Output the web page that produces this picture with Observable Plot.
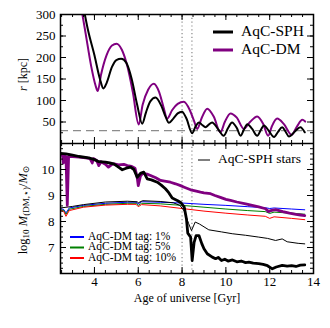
<!DOCTYPE html>
<html><head><meta charset="utf-8">
<script src="https://cdn.jsdelivr.net/npm/d3@7"></script>
<script src="https://cdn.jsdelivr.net/npm/@observablehq/plot@0.6"></script>
<style>body{margin:0;background:#fff} svg{display:block} #chart{width:330px}</style>
</head><body><div id="chart"></div>
<script>
// ---------- data ----------
const xDomain = [2.45, 14];
const xMajor = [4, 6, 8, 10, 12, 14];
const rMajor = [50, 100, 150, 200, 250, 300];
const mMajor = [7, 8, 9, 10];
const pericentreTimes = [8.0, 8.45];
const rTidal = [30];

// orbit radius r [kpc] vs age [Gyr]
const sphOrbitT = [3.45,3.7,4.0,4.25,4.41,4.55,4.8,5.0,5.22,5.45,5.7,5.95,6.18,6.35,6.55,6.79,7.05,7.25,7.4,7.6,7.8,8.0,8.2,8.46,8.62,8.77,8.92,9.07,9.22,9.37,9.65,9.9,10.1,10.28,10.5,10.67,10.82,10.98,11.2,11.43,11.6,11.74,11.95,12.2,12.38,12.57,12.72,12.88,13.15,13.4,13.6];
const sphOrbitR = [330,265,205,150,128,140,178,194,197,188,150,90,46,72,98,107,88,62,48,58,70,74,58,24,40,49,43,38,44,49,33,18,36,49,36,18,32,45,34,18,32,42,30,15,27,38,28,16,28,38,26];
const dmOrbitT = [3.35,3.6,3.85,4.05,4.15,4.3,4.55,4.8,5.01,5.25,5.5,5.75,6.02,6.2,6.45,6.71,6.95,7.15,7.32,7.55,7.8,8.08,8.35,8.55,8.69,8.9,9.15,9.45,9.75,9.95,10.21,10.5,10.82,11.1,11.43,11.7,11.93,12.1,12.34,12.65,13.0,13.25,13.49,13.62];
const dmOrbitR = [330,255,180,135,122,160,205,228,232,218,180,120,44,90,125,139,120,85,58,78,92,97,78,52,34,60,81,62,26,50,70,60,34,50,63,46,18,40,58,45,20,40,55,51];

// log10 mass vs age [Gyr]
const sphMassT = [2.45,2.7,3.0,3.3,3.74,4.0,4.2,4.5,4.7,4.88,5.05,5.27,5.45,5.65,5.8,5.95,6.1,6.25,6.41,6.6,6.87,7.05,7.24,7.4,7.55,7.8,7.95,8.1,8.2,8.26,8.39,8.46,8.55,8.64,8.77,8.9,9.0,9.15,9.38,9.53,9.65,9.8,9.95,10.1,10.3,10.5,10.7,10.9,11.05,11.25,11.5,11.7,11.9,12.12,12.3,12.57,12.8,13.0,13.2,13.4,13.6];
const sphMassM = [10.62,10.6,10.55,10.5,10.45,10.38,10.3,10.28,10.25,10.22,10.12,9.99,10.05,10.09,10.0,9.7,9.85,9.9,9.64,9.6,9.51,9.4,9.26,9.1,8.9,8.8,8.72,8.55,8.1,7.55,7.4,6.5,7.2,7.46,7.46,7.15,6.95,6.76,6.63,6.57,6.62,6.5,6.55,6.48,6.52,6.45,6.48,6.42,6.44,6.4,6.38,6.35,6.3,6.18,6.25,6.31,6.28,6.3,6.27,6.32,6.33];
const dmMassT = [2.45,2.55,2.58,2.62,2.7,2.76,2.82,3.0,3.3,3.6,3.8,3.9,3.95,4.1,4.2,4.3,4.5,4.64,4.8,4.9,5.1,5.34,5.5,5.7,5.85,5.95,6.0,6.1,6.2,6.4,6.56,6.8,7.02,7.2,7.47,7.7,7.93,8.1,8.39,8.6,8.84,9.0,9.3,9.5,9.75,10.0,10.21,10.5,10.9,11.2,11.5,11.81,11.95,12.05,12.27,12.6,12.9,13.2,13.4,13.6];
const dmMassM = [10.55,10.53,10.25,10.52,10.5,8.62,10.5,10.5,10.48,10.45,10.42,10.25,10.42,10.35,10.15,10.3,10.2,10.09,10.2,10.22,10.18,10.2,10.15,10.12,10.05,9.7,9.38,9.75,9.85,9.82,9.77,9.68,9.58,9.55,9.51,9.45,9.38,9.32,9.22,9.18,9.13,9.1,9.07,9.0,8.93,8.85,8.81,8.75,8.68,8.62,8.56,8.49,8.38,8.42,8.46,8.38,8.32,8.27,8.25,8.23];
const starsT = [2.45,3.0,3.5,4.5,5.5,5.95,6.0,6.2,7.0,7.6,7.9,8.1,8.2,8.3,8.43,8.6,8.8,9.22,9.8,10.29,10.9,11.5,11.9,12.27,12.57,12.8,13.3,13.6];
const starsM = [8.52,8.58,8.65,8.75,8.78,8.76,8.72,8.8,8.77,8.72,8.62,8.4,8.15,7.92,7.65,7.98,7.9,7.68,7.6,7.53,7.47,7.4,7.35,7.27,7.33,7.22,7.16,7.14];
const tagT = [2.45,2.6,2.7,2.85,3.5,4.5,5.5,5.9,6.0,6.15,7.0,8.0,9.0,10.0,11.0,11.8,12.0,12.2,13.0,13.6];
const tag1M = [8.5,8.46,8.33,8.52,8.62,8.7,8.74,8.74,8.68,8.76,8.74,8.71,8.66,8.62,8.57,8.53,8.5,8.52,8.48,8.45];
const tag5M = [8.46,8.42,8.27,8.47,8.58,8.66,8.7,8.7,8.62,8.7,8.68,8.62,8.55,8.48,8.42,8.38,8.31,8.36,8.32,8.28];
const tag10M = [8.43,8.38,8.2,8.42,8.55,8.63,8.66,8.66,8.57,8.65,8.6,8.5,8.4,8.32,8.25,8.2,8.12,8.18,8.12,8.07];

const zip = (T, V) => T.map((t, i) => ({t, v: V[i]}));
const sphOrbit = zip(sphOrbitT, sphOrbitR), dmOrbit = zip(dmOrbitT, dmOrbitR);
const sphMass = zip(sphMassT, sphMassM), dmMass = zip(dmMassT, dmMassM), stars = zip(starsT, starsM);
const tags = [["#0000ff", zip(tagT, tag1M)], ["#008000", zip(tagT, tag5M)], ["#ff0000", zip(tagT, tag10M)]];

const range = (a, b, s) => d3.range(Math.round((b - a) / s) + 1).map(i => +(a + i * s).toFixed(4));
const xMinor = range(2.5, 14, 0.5);
const rMinor = range(0, 300, 25);
const mMinor = range(6, 11, 0.2);

// ---------- layout ----------
const W = 330, ML = 60, MR = 17;
const FW = W - ML - MR;
const TOP_H = 143, TOP_MT = 14;
const BOT_H = 185, BOT_MB = 55;
const FH1 = TOP_H - TOP_MT, FH2 = BOT_H - BOT_MB;
const FONT = "'Liberation Serif','DejaVu Serif',serif";

function inwardTicks(xs, ys, fh, fw, len, xd, yd) {
  const inX = xs.filter(v => v >= xd[0] && v <= xd[1]);
  const inY = ys.filter(v => v >= yd[0] && v <= yd[1]);
  return [
    Plot.ruleX(inX, {insetTop: fh - len, stroke: "#000", strokeWidth: 1}),
    Plot.ruleX(inX, {insetBottom: fh - len, stroke: "#000", strokeWidth: 1}),
    Plot.ruleY(inY, {insetRight: fw - len, stroke: "#000", strokeWidth: 1}),
    Plot.ruleY(inY, {insetLeft: fw - len, stroke: "#000", strokeWidth: 1})
  ];
}

const topPlot = Plot.plot({
  width: W, height: TOP_H, marginTop: TOP_MT, marginBottom: 0, marginLeft: ML, marginRight: MR,
  x: {domain: xDomain, axis: null},
  y: {domain: [0, 300], axis: null},
  style: {fontFamily: FONT, fontSize: "13px", color: "#000", background: "#fff"},
  marks: [
    Plot.ruleY(rTidal, {stroke: "#8c8c8c", strokeWidth: 1.4, strokeDasharray: "8,5"}),
    Plot.ruleX(pericentreTimes, {stroke: "#8a8a8a", strokeWidth: 1.2, strokeDasharray: "1.2,2.6"}),
    Plot.line(dmOrbit, {x: "t", y: "v", stroke: "#800080", strokeWidth: 2, curve: "monotone-x", clip: true}),
    Plot.line(sphOrbit, {x: "t", y: "v", stroke: "#000", strokeWidth: 2, curve: "monotone-x", clip: true}),
    ...inwardTicks(xMinor, rMinor, FH1, FW, 3, xDomain, [0, 300]),
    ...inwardTicks(xMajor, rMajor, FH1, FW, 6, xDomain, [0, 300]),
    Plot.frame({stroke: "#000", strokeWidth: 1.5}),
    Plot.axisY(rMajor, {tickSize: 0, tickPadding: 5, label: null, fontSize: 13})
  ]
});

const botPlot = Plot.plot({
  width: W, height: BOT_H, marginTop: 0, marginBottom: BOT_MB, marginLeft: ML, marginRight: MR,
  x: {domain: xDomain, axis: null},
  y: {domain: [6, 11], axis: null},
  style: {fontFamily: FONT, fontSize: "13px", color: "#000", background: "#fff"},
  marks: [
    Plot.ruleX(pericentreTimes, {stroke: "#8a8a8a", strokeWidth: 1.2, strokeDasharray: "1.2,2.6"}),
    ...tags.map(([c, d]) => Plot.line(d, {x: "t", y: "v", stroke: c, strokeWidth: 1, clip: true})),
    Plot.line(stars, {x: "t", y: "v", stroke: "#000", strokeWidth: 1, clip: true}),
    Plot.line(dmMass, {x: "t", y: "v", stroke: "#800080", strokeWidth: 2.8, clip: true}),
    Plot.line(sphMass, {x: "t", y: "v", stroke: "#000", strokeWidth: 2.8, clip: true}),
    ...inwardTicks(xMinor, mMinor, FH2, FW, 3, xDomain, [6, 11]),
    ...inwardTicks(xMajor, mMajor, FH2, FW, 6, xDomain, [6, 11]),
    Plot.frame({stroke: "#000", strokeWidth: 1.5}),
    Plot.axisY(mMajor, {tickSize: 0, tickPadding: 6, label: null, fontSize: 13}),
    Plot.axisX(xMajor, {tickSize: 0, tickPadding: 3, label: null, fontSize: 13}),
    Plot.text(["Age of universe [Gyr]"], {text: d => d, frameAnchor: "bottom", dy: 28, fontSize: 12})
  ]
});

const root = document.getElementById("chart");
root.append(topPlot, botPlot);

// ---------- labels & legends ----------
function richText(svg, x, y, parts, size, rotate, anchor) {
  const g = d3.select(svg).append("g").attr("transform", `translate(${x},${y})` + (rotate ? ` rotate(${rotate})` : ""));
  const t = g.append("text").attr("text-anchor", anchor || "start").attr("font-family", FONT)
    .attr("font-size", size).attr("fill", "#000").attr("dominant-baseline", "middle");
  let shift = 0;
  for (const p of parts) {
    const want = p.sub ? 3 : 0;
    const ts = t.append("tspan").text(p.t).attr("dy", want - shift);
    shift = want;
    if (p.sub) ts.attr("font-size", size * 0.72);
    if (p.it) ts.attr("font-style", "italic");
  }
}
richText(topPlot, 24, TOP_MT + FH1 / 2 - 4, [{t: "r", it: true}, {t: " [kpc]"}], 12, -90, "middle");
richText(botPlot, 24, FH2 / 2 + 2, [{t: "log"}, {t: "10", sub: true}, {t: " "}, {t: "M", it: true},
  {t: "(DM,\u22c6)", sub: true}, {t: "/"}, {t: "M", it: true}, {t: "\u2299", sub: true}], 12.5, -90, "middle");

function legendRow(svg, x, y, color, width, lineLen, gap, label, size) {
  const s = d3.select(svg);
  s.append("line").attr("x1", x).attr("x2", x + lineLen).attr("y1", y).attr("y2", y)
    .attr("stroke", color).attr("stroke-width", width);
  s.append("text").attr("x", x + lineLen + gap).attr("y", y).attr("dominant-baseline", "middle")
    .attr("text-anchor", "start")
    .attr("font-family", FONT).attr("font-size", size).attr("fill", "#000").text(label);
}
legendRow(topPlot, 213, 32, "#000", 3, 20, 8, "AqC-SPH", 15.5);
legendRow(topPlot, 213, 50, "#800080", 3, 20, 8, "AqC-DM", 15.5);
legendRow(botPlot, 198, 17, "#000", 1, 12, 8, "AqC-SPH stars", 13.5);
legendRow(botPlot, 70, 237 - TOP_H, "#0000ff", 2, 14, 4, "AqC-DM tag: 1%", 11.5);
legendRow(botPlot, 70, 247.5 - TOP_H, "#008000", 2, 14, 4, "AqC-DM tag: 5%", 11.5);
legendRow(botPlot, 70, 258 - TOP_H, "#ff0000", 2, 14, 4, "AqC-DM tag: 10%", 11.5);
</script>
</body></html>
